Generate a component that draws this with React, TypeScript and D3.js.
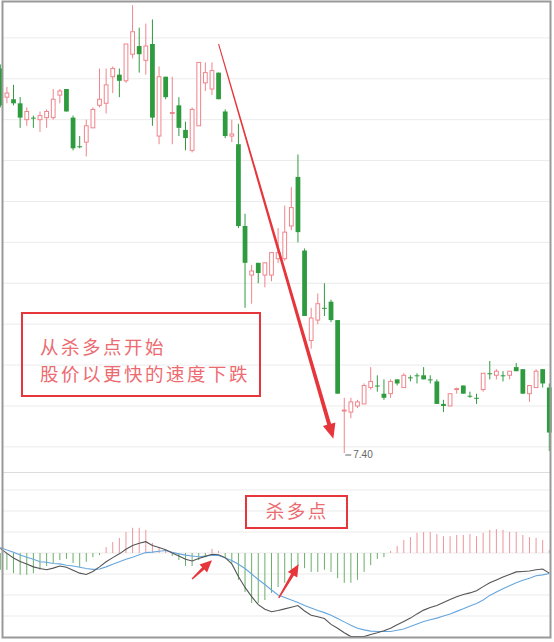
import React from 'react';
import * as d3 from 'd3';

const W = 554;
const H = 642;

// --- candle data (price) ---
const opens = [
  9.28, 9.14, 9.13, 9.11, 9.03, 9.04, 9.03, 9.04, 9.04, 9.15,
  9.18, 9.04, 8.90, 8.92, 8.99, 9.10, 9.11, 9.24, 9.25, 9.22,
  9.35, 9.39, 9.32, 9.40, 8.95, 9.24, 9.06, 9.10, 8.98, 8.88,
  9.00, 9.21, 9.18, 9.26, 9.07, 8.95, 8.91, 8.51, 8.27, 8.33,
  8.27, 8.27, 8.35, 8.35, 8.51, 8.75, 8.39, 7.95, 8.05, 8.11,
  8.14, 8.05, 7.605, 7.60, 7.63, 7.64, 7.72, 7.73, 7.69, 7.69,
  7.76, 7.72, 7.77, 7.78, 7.78, 7.76, 7.75, 7.64, 7.63, 7.71,
  7.73, 7.68, 7.67, 7.71, 7.79, 7.78, 7.78, 7.78, 7.82, 7.81,
  7.69, 7.72, 7.81, 7.72,
];
const closes = [
  9.10, 9.16, 9.11, 9.04, 9.07, 9.035, 9.05, 9.07, 9.13, 9.17,
  9.07, 8.89, 8.895, 9.00, 9.08, 9.13, 9.20, 9.28, 9.22, 9.40,
  9.46, 9.35, 9.39, 9.04, 9.24, 9.14, 9.065, 8.99, 8.94, 9.08,
  9.31, 9.26, 9.27, 9.13, 8.95, 8.96, 8.51, 8.33, 8.29, 8.28,
  8.33, 8.38, 8.38, 8.48, 8.60, 8.48, 8.07, 8.06, 8.13, 8.105,
  8.05, 7.69, 7.61, 7.65, 7.65, 7.73, 7.75, 7.725, 7.67, 7.75,
  7.74, 7.78, 7.765, 7.775, 7.76, 7.755, 7.64, 7.63, 7.69, 7.715,
  7.69, 7.675, 7.665, 7.79, 7.785, 7.80, 7.775, 7.80, 7.80, 7.69,
  7.73, 7.80, 7.74, 7.50,
];
const highs = [
  9.30, 9.19, 9.20, 9.14, 9.09, 9.05, 9.07, 9.08, 9.18, 9.18,
  9.18, 9.05, 8.95, 9.03, 9.09, 9.28, 9.28, 9.29, 9.28, 9.40,
  9.59, 9.48, 9.50, 9.52, 9.29, 9.24, 9.24, 9.14, 9.02, 9.09,
  9.31, 9.31, 9.31, 9.26, 9.08, 9.03, 9.01, 8.57, 8.32, 8.33,
  8.33, 8.38, 8.50, 8.61, 8.70, 8.86, 8.40, 8.11, 8.18, 8.23,
  8.15, 8.05, 7.67, 7.67, 7.66, 7.74, 7.82, 7.78, 7.76, 7.76,
  7.76, 7.79, 7.78, 7.79, 7.82, 7.78, 7.76, 7.66, 7.69, 7.72,
  7.73, 7.70, 7.69, 7.79, 7.85, 7.81, 7.80, 7.80, 7.84, 7.81,
  7.73, 7.81, 7.81, 7.74,
];
const lows = [
  9.09, 9.11, 9.10, 8.99, 9.00, 8.99, 8.97, 8.99, 9.03, 9.11,
  9.07, 8.88, 8.89, 8.85, 8.99, 9.09, 9.06, 9.16, 9.14, 9.21,
  9.33, 9.26, 9.25, 9.00, 8.91, 9.13, 8.91, 8.95, 8.88, 8.87,
  9.00, 9.17, 9.15, 9.13, 8.94, 8.92, 8.50, 8.11, 8.13, 8.23,
  8.21, 8.24, 8.33, 8.34, 8.49, 8.43, 8.07, 7.91, 8.03, 8.07,
  8.04, 7.69, 7.40, 7.57, 7.62, 7.64, 7.71, 7.70, 7.66, 7.67,
  7.73, 7.72, 7.75, 7.74, 7.76, 7.74, 7.64, 7.60, 7.63, 7.69,
  7.69, 7.67, 7.64, 7.70, 7.76, 7.76, 7.75, 7.76, 7.80, 7.69,
  7.65, 7.72, 7.72, 7.41,
];

// --- MACD ---
const difs = [
  0.011, -0.001, -0.012, -0.020, -0.026, -0.033, -0.037, -0.040, -0.036, -0.031,
  -0.034, -0.041, -0.048, -0.051, -0.044, -0.033, -0.021, -0.011, -0.002, 0.009,
  0.018, 0.023, 0.027, 0.018, 0.013, 0.008, 0.000, -0.007, -0.015, -0.019,
  -0.013, -0.008, -0.003, -0.004, -0.011, -0.026, -0.056, -0.082, -0.104, -0.123,
  -0.134, -0.140, -0.137, -0.133, -0.129, -0.125, -0.138, -0.148, -0.152, -0.156,
  -0.170, -0.179, -0.190, -0.199, -0.199, -0.199, -0.194, -0.190, -0.185, -0.179,
  -0.171, -0.163, -0.155, -0.145, -0.136, -0.130, -0.125, -0.118, -0.111, -0.104,
  -0.099, -0.095, -0.090, -0.080, -0.071, -0.064, -0.057, -0.051, -0.045, -0.044,
  -0.043, -0.040, -0.038, -0.048,
];
const deas = [
  0.013, 0.007, 0.002, -0.005, -0.010, -0.015, -0.021, -0.022, -0.025, -0.026,
  -0.029, -0.031, -0.034, -0.037, -0.039, -0.038, -0.033, -0.027, -0.021, -0.015,
  -0.010, -0.004, 0.001, 0.002, 0.004, 0.006, 0.002, -0.002, -0.005, -0.007,
  -0.009, -0.007, -0.006, -0.006, -0.012, -0.018, -0.027, -0.037, -0.050, -0.063,
  -0.075, -0.088, -0.100, -0.106, -0.112, -0.118, -0.125, -0.131, -0.137, -0.142,
  -0.148, -0.156, -0.164, -0.172, -0.179, -0.183, -0.186, -0.187, -0.187, -0.187,
  -0.184, -0.181, -0.175, -0.169, -0.163, -0.159, -0.155, -0.150, -0.145, -0.139,
  -0.133, -0.126, -0.120, -0.112, -0.101, -0.093, -0.085, -0.078, -0.071, -0.065,
  -0.060, -0.054, -0.052, -0.049,
];
const hists = [
  -0.040, -0.040, -0.048, -0.052, -0.052, -0.048, -0.040, -0.031, -0.024, -0.017,
  -0.014, -0.024, -0.033, -0.021, -0.010, -0.005, 0.014, 0.026, 0.036, 0.050,
  0.060, 0.060, 0.055, 0.024, 0.014, 0.007, -0.007, -0.017, -0.031, -0.031,
  -0.017, -0.010, 0.010, 0.005, -0.012, -0.024, -0.064, -0.093, -0.119, -0.119,
  -0.112, -0.095, -0.081, -0.071, -0.040, -0.031, -0.036, -0.045, -0.045, -0.040,
  -0.045, -0.060, -0.071, -0.071, -0.064, -0.045, -0.029, -0.014, -0.010, 0.005,
  0.017, 0.031, 0.038, 0.048, 0.050, 0.050, 0.045, 0.040, 0.040, 0.043,
  0.043, 0.045, 0.040, 0.048, 0.055, 0.057, 0.055, 0.050, 0.050, 0.043,
  0.038, 0.036, 0.031, 0.007,
];

const priceGrid = [7.43, 7.63, 7.83, 8.03, 8.23, 8.43, 8.63, 8.83, 9.03, 9.23, 9.43];
const macdGrid = [0.15, 0.1, 0.05, 0, -0.05, -0.1, -0.15];

const lowLabel = '7.40';
const lowIndex = 52;

// annotations in data coordinates: [candle index, value]
const trendFrom: [number, number] = [33, 9.40];
const trendTo: [number, number] = [50.35, 7.47];
const macdArrows: [number, number][][] = [
  [[29, -0.062], [32, -0.017]],
  [[42.1, -0.107], [45.1, -0.027]],
];
const boxText1 = ['从杀多点开始', '股价以更快的速度下跌'];
const boxText2 = '杀多点';

const RED = '#f0848c';
const GREEN = '#2f9b3f';
const NOTE = '#e6363c';
const NOTE_TEXT = '#ec6b71';
const CJK = '"Noto Sans CJK SC", "Noto Sans", sans-serif';

const x = d3.scaleLinear().domain([0, opens.length - 1]).range([0.3, 549.3]);
const step = x(1) - x(0);
const bodyW = step * 0.72;
const y = d3.scaleLinear().domain([7.4, 9.6]).range([453, 453 - 2.2 * 204.5]);
const ym = d3.scaleLinear().domain([0, 0.15]).range([553, 490]);

// tapered arrow: thin tail, wider shaft, filled head
function arrowPath(
  x1: number, y1: number, x2: number, y2: number,
  w0: number, w1: number, hl: number, hw: number
) {
  const dx = x2 - x1, dy = y2 - y1, L = Math.hypot(dx, dy);
  const ux = dx / L, uy = dy / L, nx = -uy, ny = ux;
  const bx = x2 - ux * hl, by = y2 - uy * hl;
  const pts: [number, number][] = [
    [x1 + nx * w0 / 2, y1 + ny * w0 / 2],
    [bx + nx * w1 / 2, by + ny * w1 / 2],
    [bx + nx * hw, by + ny * hw],
    [x2, y2],
    [bx - nx * hw, by - ny * hw],
    [bx - nx * w1 / 2, by - ny * w1 / 2],
    [x1 - nx * w0 / 2, y1 - ny * w0 / 2],
  ];
  return d3.line()(pts) + 'Z';
}

const Candles: React.FC = () => (
  <g>
    {opens.map((o, i) => {
      const c = closes[i];
      const up = c > o;
      const col = up ? RED : GREEN;
      const cx = x(i);
      const top = y(Math.max(o, c));
      const bot = y(Math.min(o, c));
      const h = Math.max(1, bot - top);
      return (
        <g key={i}>
          <line x1={cx} x2={cx} y1={y(highs[i])} y2={y(lows[i])} stroke={col} strokeWidth={1} />
          {up ? (
            <rect x={cx - bodyW / 2 + 0.5} y={top} width={bodyW - 1} height={h}
              fill="#fff" stroke={col} strokeWidth={1} />
          ) : (
            <rect x={cx - bodyW / 2} y={top} width={bodyW} height={h} fill={col} />
          )}
        </g>
      );
    })}
  </g>
);

const Macd: React.FC = () => {
  const line = d3.line<number>().x((_, i) => x(i)).y(d => ym(d));
  return (
    <g>
      {hists.map((v, i) => (
        <line key={i} x1={x(i)} x2={x(i)} y1={ym(0)} y2={ym(v)}
          stroke={v >= 0 ? '#ee959b' : '#69b069'} strokeWidth={1} />
      ))}
      <path d={line(deas) || ''} fill="none" stroke="#66a6de" strokeWidth={1.1} />
      <path d={line(difs) || ''} fill="none" stroke="#555" strokeWidth={1.1} />
    </g>
  );
};

export default function App() {
  const lx = x(lowIndex);
  const ly = y(7.4) + 2;
  return (
    <svg width={W} height={H} viewBox={`0 0 ${W} ${H}`}
      style={{ position: 'absolute', left: 0, top: 0, background: '#fff' }}>
      <rect x={0} y={0} width={W} height={H} fill="#fff" />

      {/* grid */}
      {priceGrid.map(p => (
        <line key={p} x1={3} x2={550} y1={y(p)} y2={y(p)} stroke="#ebebeb" strokeWidth={1} />
      ))}
      <line x1={3} x2={550} y1={472.5} y2={472.5} stroke="#dcdcdc" strokeWidth={1} />
      {macdGrid.map(v => (
        <line key={v} x1={3} x2={550} y1={ym(v)} y2={ym(v)} stroke="#ebebeb" strokeWidth={1} />
      ))}

      <Candles />

      {/* lowest price label */}
      <line x1={lx + 1} x2={lx + 7} y1={ly} y2={ly} stroke="#666" strokeWidth={1} />
      <text x={lx + 9} y={ly} dominantBaseline="middle" fontSize={10}
        fontFamily="'Liberation Sans', Arial, sans-serif" fill="#666">{lowLabel}</text>

      <Macd />

      {/* annotations */}
      <path d={arrowPath(x(trendFrom[0]), y(trendFrom[1]), x(trendTo[0]), y(trendTo[1]), 1, 4, 15, 6.5)}
        fill={NOTE} />
      {macdArrows.map((a, k) => (
        <path key={k} d={arrowPath(x(a[0][0]), ym(a[0][1]), x(a[1][0]), ym(a[1][1]), 1.5, 3.2, 12, 5.5)}
          fill={NOTE} />
      ))}

      <rect x={22} y={313} width={238} height={83} fill="none" stroke={NOTE} strokeWidth={2} />
      {boxText1.map((t, k) => (
        <text key={k} x={40} y={353.5 + k * 27} fontSize={18.5} letterSpacing={2.5}
          fontFamily={CJK} fill={NOTE_TEXT}>{t}</text>
      ))}

      <rect x={246} y={496} width={101} height={32} fill="none" stroke={NOTE} strokeWidth={2} />
      <text x={297.2} y={518} textAnchor="middle" fontSize={18.5} letterSpacing={2.5}
        fontFamily={CJK} fill={NOTE_TEXT}>{boxText2}</text>

      {/* frame */}
      <rect x={2.5} y={1.5} width={548} height={636} fill="none" stroke="#999" strokeWidth={2} />
    </svg>
  );
}
